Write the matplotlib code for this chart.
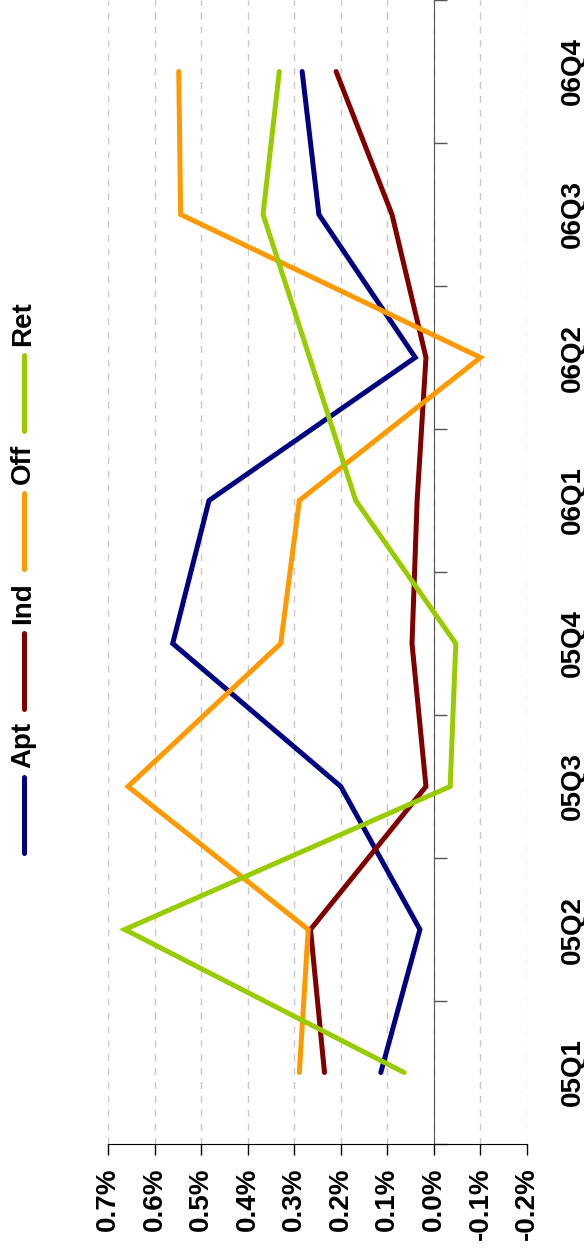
import matplotlib
matplotlib.use("Agg")
import matplotlib.pyplot as plt
from matplotlib.lines import Line2D
from matplotlib.ticker import FixedLocator, FuncFormatter

plt.rcParams['font.family'] = ['Liberation Sans', 'DejaVu Sans']
plt.rcParams['font.weight'] = 'bold'

# Quarterly change by property type, in percent
quarters = ['05Q1', '05Q2', '05Q3', '05Q4', '06Q1', '06Q2', '06Q3', '06Q4']
apt = [0.114, 0.030, 0.200, 0.561, 0.483, 0.040, 0.247, 0.283]
ind = [0.235, 0.265, 0.017, 0.047, 0.036, 0.017, 0.090, 0.210]
off = [0.289, 0.270, 0.657, 0.329, 0.289, -0.100, 0.544, 0.548]
ret = [0.064, 0.664, -0.035, -0.047, 0.168, 0.267, 0.367, 0.332]
pct_ticks = [0.7, 0.6, 0.5, 0.4, 0.3, 0.2, 0.1, 0.0, -0.1, -0.2]

series = [('Apt', apt, '#000080'), ('Ind', ind, '#800000'),
          ('Off', off, '#FF9900'), ('Ret', ret, '#99CC00')]

W, H = 584, 1252
fig = plt.figure(figsize=(W / 100, H / 100), dpi=100)
ax = fig.add_axes([108 / W, 108 / H, (527 - 108) / W, 1144 / H])

# chart is laid out sideways: percent runs along x (reversed), quarters up y
pos = list(range(len(quarters)))
for name, vals, color in series:
    ax.plot(vals, pos, color=color, lw=3.6, solid_capstyle='round',
            solid_joinstyle='miter', zorder=3)

ax.set_xlim(0.7, -0.2)
ax.set_ylim(-0.5, len(quarters) - 0.5)

ax.xaxis.set_major_locator(FixedLocator(pct_ticks))
ax.xaxis.set_major_formatter(FuncFormatter(lambda v, p: f'{v:.1f}%'))
ax.tick_params(axis='x', direction='out', length=8, width=1, pad=9,
               labelsize=20, labelrotation=90, color='black')
ax.grid(axis='x', linestyle=(0, (5, 5)), color='#c8c8c8', lw=1)
ax.set_axisbelow(True)

# category axis sits at 0%, tick marks between quarters
ax.spines['left'].set_position(('data', 0))
ax.spines['left'].set_color('#555555')
ax.spines['left'].set_zorder(2.5)
for s in ['top', 'right']:
    ax.spines[s].set_visible(False)
ax.spines['bottom'].set_color('black')

ax.yaxis.set_major_locator(FixedLocator([i - 0.5 for i in range(len(quarters) + 1)]))
ax.yaxis.set_major_formatter(FuncFormatter(lambda v, p: ''))
ax.yaxis.set_minor_locator(FixedLocator(pos))
ax.yaxis.set_minor_formatter(FuncFormatter(lambda v, p: quarters[int(round(v))]))
ax.tick_params(axis='y', which='major', left=True, right=False, direction='in',
               length=9, width=1, color='#555555', labelleft=False)
ax.tick_params(axis='y', which='minor', left=False, right=False, labelleft=False,
               labelright=True, length=0, pad=23.5, labelsize=20)

fig.canvas.draw()
for lab in ax.get_yminorticklabels():
    lab.set_rotation(90)
    lab.set_va('center')
    lab.set_ha('left')
    lab.set_fontweight('bold')
for lab in ax.get_xticklabels():
    lab.set_fontweight('bold')

# legend, stacked upward along the left edge
renderer = fig.canvas.get_renderer()
y = 853
for name, vals, color in series:
    fig.add_artist(Line2D([24 / W, 24 / W], [1 - y / H, 1 - (y - 76) / H],
                          color=color, lw=3.6, solid_capstyle='round',
                          transform=fig.transFigure))
    t = fig.text(23 / W, 1 - (y - 76 - 9) / H, name, rotation=90, ha='center',
                 va='bottom', fontsize=20, fontweight='bold')
    h = t.get_window_extent(renderer).height
    y = y - 76 - 9 - h - 13

fig.savefig('out.png', dpi=100)
